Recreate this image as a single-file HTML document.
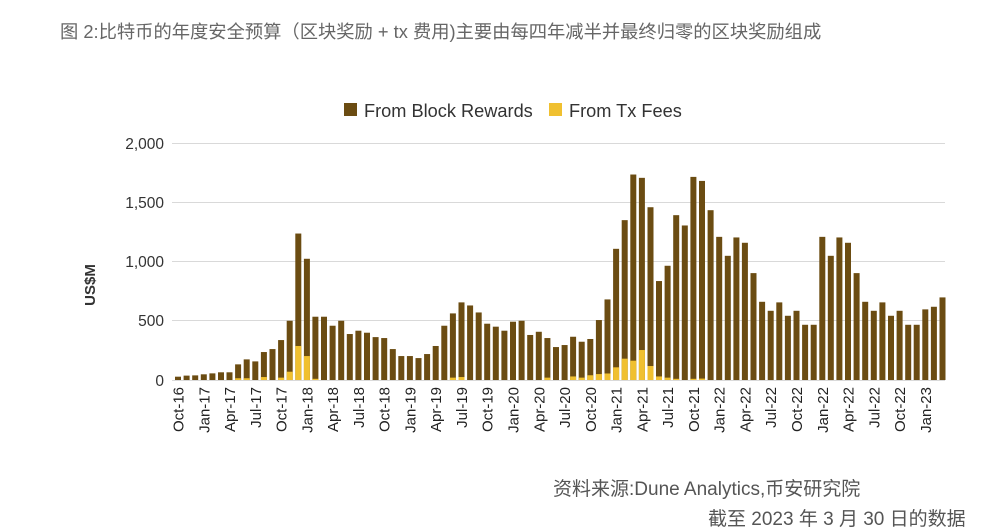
<!DOCTYPE html>
<html><head><meta charset="utf-8"><style>
body{margin:0;background:#fff;width:1002px;height:522px;overflow:hidden;position:relative;font-family:"Liberation Sans","Noto Sans CJK SC",sans-serif}
.t{position:absolute;color:#555;white-space:nowrap}
</style></head><body>
<div class="t" style="left:60px;top:18px;font-size:18.3px;color:#666">图 2:比特币的年度安全预算（区块奖励 + tx 费用)主要由每四年减半并最终归零的区块奖励组成</div>
<div class="t" style="left:553px;top:474px;font-size:19px">资料来源:Dune Analytics,币安研究院</div>
<div class="t" style="left:708px;top:504px;font-size:19px">截至 2023 年 3 月 30 日的数据</div>
<svg width="1002" height="522" style="position:absolute;left:0;top:0" font-family="Liberation Sans, sans-serif">
<g stroke="#d9d9d9" stroke-width="1">
<line x1="172" x2="945" y1="143.5" y2="143.5"/><line x1="172" x2="945" y1="202.5" y2="202.5"/><line x1="172" x2="945" y1="261.5" y2="261.5"/><line x1="172" x2="945" y1="320.5" y2="320.5"/><line x1="172" x2="945" y1="380.5" y2="380.5"/>
</g>
<g font-size="15.5" fill="#333" text-anchor="end">
<text x="164" y="149">2,000</text><text x="164" y="208">1,500</text><text x="164" y="267">1,000</text><text x="164" y="326">500</text><text x="164" y="386">0</text>
</g>
<text transform="translate(95,285) rotate(-90)" text-anchor="middle" font-size="15" font-weight="bold" fill="#333">US$M</text>
<rect x="344" y="103" width="13" height="13" fill="#6b4c12"/><text x="364" y="117" font-size="18.2" fill="#333">From Block Rewards</text>
<rect x="549" y="103" width="13" height="13" fill="#f0c030"/><text x="569" y="117" font-size="18.2" fill="#333">From Tx Fees</text>
<g transform="translate(0,380) scale(1,-0.1185)">
<g fill="#6b4c12">
<rect x="175.0" y="0" width="6" height="28"/><rect x="183.6" y="0" width="6" height="37"/><rect x="192.2" y="0" width="6" height="39"/><rect x="200.8" y="0" width="6" height="48"/><rect x="209.4" y="0" width="6" height="56"/><rect x="218.0" y="0" width="6" height="65"/><rect x="226.5" y="0" width="6" height="65"/><rect x="235.1" y="0" width="6" height="132"/><rect x="243.7" y="0" width="6" height="174"/><rect x="252.3" y="0" width="6" height="157"/><rect x="260.9" y="0" width="6" height="236"/><rect x="269.5" y="0" width="6" height="261"/><rect x="278.1" y="0" width="6" height="337"/><rect x="286.7" y="0" width="6" height="500"/><rect x="295.3" y="0" width="6" height="1236"/><rect x="303.9" y="0" width="6" height="1023"/><rect x="312.4" y="0" width="6" height="534"/><rect x="321.0" y="0" width="6" height="534"/><rect x="329.6" y="0" width="6" height="458"/><rect x="338.2" y="0" width="6" height="500"/><rect x="346.8" y="0" width="6" height="388"/><rect x="355.4" y="0" width="6" height="416"/><rect x="364.0" y="0" width="6" height="399"/><rect x="372.6" y="0" width="6" height="362"/><rect x="381.2" y="0" width="6" height="354"/><rect x="389.8" y="0" width="6" height="261"/><rect x="398.3" y="0" width="6" height="202"/><rect x="406.9" y="0" width="6" height="202"/><rect x="415.5" y="0" width="6" height="185"/><rect x="424.1" y="0" width="6" height="219"/><rect x="432.7" y="0" width="6" height="287"/><rect x="441.3" y="0" width="6" height="458"/><rect x="449.9" y="0" width="6" height="562"/><rect x="458.5" y="0" width="6" height="655"/><rect x="467.1" y="0" width="6" height="629"/><rect x="475.7" y="0" width="6" height="570"/><rect x="484.2" y="0" width="6" height="475"/><rect x="492.8" y="0" width="6" height="450"/><rect x="501.4" y="0" width="6" height="416"/><rect x="510.0" y="0" width="6" height="492"/><rect x="518.6" y="0" width="6" height="500"/><rect x="527.2" y="0" width="6" height="380"/><rect x="535.8" y="0" width="6" height="407"/><rect x="544.4" y="0" width="6" height="354"/><rect x="553.0" y="0" width="6" height="278"/><rect x="561.6" y="0" width="6" height="295"/><rect x="570.1" y="0" width="6" height="365"/><rect x="578.7" y="0" width="6" height="323"/><rect x="587.3" y="0" width="6" height="346"/><rect x="595.9" y="0" width="6" height="506"/><rect x="604.5" y="0" width="6" height="680"/><rect x="613.1" y="0" width="6" height="1107"/><rect x="621.7" y="0" width="6" height="1349"/><rect x="630.3" y="0" width="6" height="1734"/><rect x="638.9" y="0" width="6" height="1706"/><rect x="647.5" y="0" width="6" height="1458"/><rect x="656.0" y="0" width="6" height="835"/><rect x="664.6" y="0" width="6" height="964"/><rect x="673.2" y="0" width="6" height="1391"/><rect x="681.8" y="0" width="6" height="1304"/><rect x="690.4" y="0" width="6" height="1714"/><rect x="699.0" y="0" width="6" height="1680"/><rect x="707.6" y="0" width="6" height="1433"/><rect x="716.2" y="0" width="6" height="1208"/><rect x="724.8" y="0" width="6" height="1048"/><rect x="733.4" y="0" width="6" height="1203"/><rect x="741.9" y="0" width="6" height="1158"/><rect x="750.5" y="0" width="6" height="902"/><rect x="759.1" y="0" width="6" height="660"/><rect x="767.7" y="0" width="6" height="584"/><rect x="776.3" y="0" width="6" height="655"/><rect x="784.9" y="0" width="6" height="542"/><rect x="793.5" y="0" width="6" height="584"/><rect x="802.1" y="0" width="6" height="466"/><rect x="810.7" y="0" width="6" height="466"/><rect x="819.3" y="0" width="6" height="1208"/><rect x="827.8" y="0" width="6" height="1048"/><rect x="836.4" y="0" width="6" height="1203"/><rect x="845.0" y="0" width="6" height="1158"/><rect x="853.6" y="0" width="6" height="902"/><rect x="862.2" y="0" width="6" height="660"/><rect x="870.8" y="0" width="6" height="584"/><rect x="879.4" y="0" width="6" height="655"/><rect x="888.0" y="0" width="6" height="542"/><rect x="896.6" y="0" width="6" height="584"/><rect x="905.2" y="0" width="6" height="466"/><rect x="913.7" y="0" width="6" height="466"/><rect x="922.3" y="0" width="6" height="596"/><rect x="930.9" y="0" width="6" height="618"/><rect x="939.5" y="0" width="6" height="697"/>
</g>
<g fill="#f0c030">
<rect x="235.1" y="0" width="6" height="15"/><rect x="243.7" y="0" width="6" height="15"/><rect x="260.9" y="0" width="6" height="25"/><rect x="278.1" y="0" width="6" height="20"/><rect x="286.7" y="0" width="6" height="70"/><rect x="295.3" y="0" width="6" height="287"/><rect x="303.9" y="0" width="6" height="202"/><rect x="312.4" y="0" width="6" height="10"/><rect x="449.9" y="0" width="6" height="20"/><rect x="458.5" y="0" width="6" height="25"/><rect x="544.4" y="0" width="6" height="20"/><rect x="570.1" y="0" width="6" height="30"/><rect x="578.7" y="0" width="6" height="20"/><rect x="587.3" y="0" width="6" height="40"/><rect x="595.9" y="0" width="6" height="50"/><rect x="604.5" y="0" width="6" height="55"/><rect x="613.1" y="0" width="6" height="107"/><rect x="621.7" y="0" width="6" height="180"/><rect x="630.3" y="0" width="6" height="163"/><rect x="638.9" y="0" width="6" height="253"/><rect x="647.5" y="0" width="6" height="118"/><rect x="656.0" y="0" width="6" height="30"/><rect x="664.6" y="0" width="6" height="20"/><rect x="673.2" y="0" width="6" height="10"/><rect x="690.4" y="0" width="6" height="10"/><rect x="699.0" y="0" width="6" height="12"/>
</g>
</g>
<g font-size="15" fill="#222" text-anchor="end">
<text transform="translate(183.5,387) rotate(-90)">Oct-16</text><text transform="translate(209.3,387) rotate(-90)">Jan-17</text><text transform="translate(235,387) rotate(-90)">Apr-17</text><text transform="translate(260.8,387) rotate(-90)">Jul-17</text><text transform="translate(286.6,387) rotate(-90)">Oct-17</text><text transform="translate(312.4,387) rotate(-90)">Jan-18</text><text transform="translate(338.1,387) rotate(-90)">Apr-18</text><text transform="translate(363.9,387) rotate(-90)">Jul-18</text><text transform="translate(389.7,387) rotate(-90)">Oct-18</text><text transform="translate(415.4,387) rotate(-90)">Jan-19</text><text transform="translate(441.2,387) rotate(-90)">Apr-19</text><text transform="translate(467,387) rotate(-90)">Jul-19</text><text transform="translate(492.7,387) rotate(-90)">Oct-19</text><text transform="translate(518.5,387) rotate(-90)">Jan-20</text><text transform="translate(544.3,387) rotate(-90)">Apr-20</text><text transform="translate(570.1,387) rotate(-90)">Jul-20</text><text transform="translate(595.8,387) rotate(-90)">Oct-20</text><text transform="translate(621.6,387) rotate(-90)">Jan-21</text><text transform="translate(647.4,387) rotate(-90)">Apr-21</text><text transform="translate(673.1,387) rotate(-90)">Jul-21</text><text transform="translate(698.9,387) rotate(-90)">Oct-21</text><text transform="translate(724.7,387) rotate(-90)">Jan-22</text><text transform="translate(750.4,387) rotate(-90)">Apr-22</text><text transform="translate(776.2,387) rotate(-90)">Jul-22</text><text transform="translate(802,387) rotate(-90)">Oct-22</text><text transform="translate(827.8,387) rotate(-90)">Jan-22</text><text transform="translate(853.5,387) rotate(-90)">Apr-22</text><text transform="translate(879.3,387) rotate(-90)">Jul-22</text><text transform="translate(905.1,387) rotate(-90)">Oct-22</text><text transform="translate(930.8,387) rotate(-90)">Jan-23</text>
</g>
</svg>
</body></html>
